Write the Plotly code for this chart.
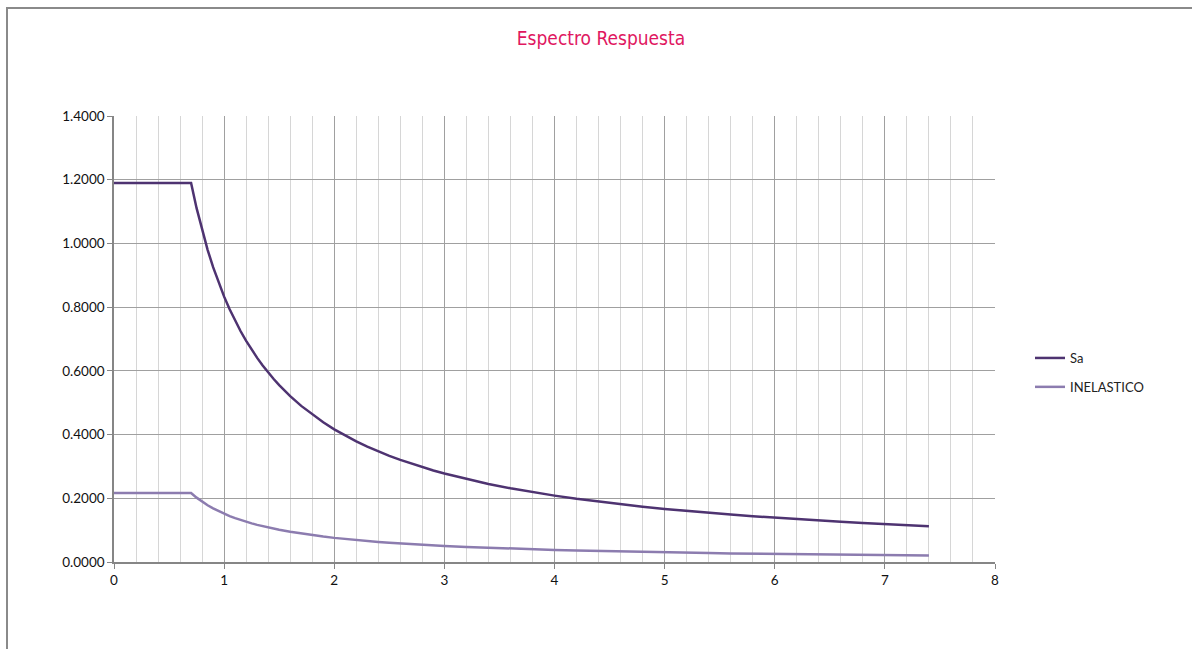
import plotly.graph_objects as go

# Period T (s) and spectral accelerations
periodo = [0, 0.7, 0.75, 0.8, 0.85, 0.9, 0.95, 1.0, 1.05, 1.1, 1.15, 1.2, 1.25, 1.3,
           1.35, 1.4, 1.45, 1.5, 1.6, 1.7, 1.8, 1.9, 2.0, 2.1, 2.2, 2.3, 2.4, 2.5, 2.6,
           2.7, 2.8, 2.9, 3.0, 3.2, 3.4, 3.6, 3.8, 4.0, 4.2, 4.4, 4.6, 4.8, 5.0, 5.2,
           5.4, 5.6, 5.8, 6.0, 6.2, 6.4, 6.6, 6.8, 7.0, 7.2, 7.4]
sa = [1.1900, 1.1900, 1.1107, 1.0413, 0.9800, 0.9256, 0.8768, 0.8330, 0.7933, 0.7573,
      0.7243, 0.6942, 0.6664, 0.6408, 0.6170, 0.5950, 0.5745, 0.5553, 0.5206, 0.4900,
      0.4628, 0.4384, 0.4165, 0.3967, 0.3786, 0.3622, 0.3471, 0.3332, 0.3204, 0.3085,
      0.2975, 0.2872, 0.2777, 0.2603, 0.2450, 0.2314, 0.2192, 0.2083, 0.1983, 0.1893,
      0.1811, 0.1735, 0.1666, 0.1602, 0.1543, 0.1488, 0.1436, 0.1388, 0.1344, 0.1302,
      0.1262, 0.1225, 0.1190, 0.1157, 0.1126]
inelastico = [0.2164, 0.2164, 0.2020, 0.1893, 0.1782, 0.1683, 0.1594, 0.1515, 0.1442,
              0.1377, 0.1317, 0.1262, 0.1212, 0.1165, 0.1122, 0.1082, 0.1045, 0.1010,
              0.0947, 0.0891, 0.0841, 0.0797, 0.0757, 0.0721, 0.0689, 0.0659, 0.0631,
              0.0606, 0.0583, 0.0561, 0.0541, 0.0522, 0.0505, 0.0473, 0.0445, 0.0421,
              0.0399, 0.0379, 0.0361, 0.0344, 0.0329, 0.0316, 0.0303, 0.0291, 0.0280,
              0.0270, 0.0261, 0.0252, 0.0244, 0.0237, 0.0229, 0.0223, 0.0216, 0.0210,
              0.0205]

x_ticks = [0, 1, 2, 3, 4, 5, 6, 7, 8]
y_ticks = [0.0, 0.2, 0.4, 0.6, 0.8, 1.0, 1.2, 1.4]

FONT = "Lato, 'Open Sans', sans-serif"

fig = go.Figure()
fig.add_trace(go.Scatter(x=periodo, y=sa, mode="lines", name="Sa", legendgroup="a",
                         line=dict(color="#4E3371", width=2.5)))
fig.add_trace(go.Scatter(x=periodo, y=inelastico, mode="lines", name="INELASTICO",
                         legendgroup="b", line=dict(color="#8C7CAF", width=2.5)))

W, H = 1192, 649
L, R, T, B = 114, 197, 116, 87
pw, ph = W - L - R, H - T - B

fig.update_layout(
    width=W, height=H,
    margin=dict(l=L, r=R, t=T, b=B),
    paper_bgcolor="white", plot_bgcolor="white",
    title=dict(text="Espectro Respuesta", x=601 / W, xanchor="center",
               y=1 - 38 / H, yanchor="middle",
               font=dict(family="'DejaVu Sans Condensed', 'Liberation Sans Narrow', sans-serif",
                         size=19, color="#E0175F")),
    showlegend=True,
    legend=dict(x=(1030 - L) / pw, y=(H - B - 343) / ph, xanchor="left", yanchor="top",
                font=dict(family=FONT, size=13, color="#222"),
                bgcolor="rgba(0,0,0,0)", tracegroupgap=9, itemwidth=30),
    xaxis=dict(range=[0, 8], tickvals=x_ticks, ticktext=[str(v) for v in x_ticks],
               showgrid=True, gridcolor="#A0A0A0", gridwidth=1,
               minor=dict(dtick=0.2, showgrid=True, gridcolor="#D6D6D6", gridwidth=1),
               showline=True, linecolor="#868686", linewidth=1.5,
               ticks="outside", ticklen=5, tickcolor="#868686",
               tickfont=dict(family=FONT, size=13.5, color="#111"),
               zeroline=False, fixedrange=True),
    yaxis=dict(range=[0, 1.4], tickvals=y_ticks, tickformat=".4f",
               showgrid=True, gridcolor="#A0A0A0", gridwidth=1,
               showline=True, linecolor="#868686", linewidth=1.5,
               ticks="outside", ticklen=5, tickcolor="#868686",
               tickfont=dict(family=FONT, size=13.5, color="#111"),
               zeroline=False, fixedrange=True),
)

# Outer chart frame (top and left edges visible)
fig.add_shape(type="rect", xref="paper", yref="paper",
              x0=(7 - L) / pw, x1=(W + 20 - L) / pw,
              y0=(H - B - (H + 20)) / ph, y1=(H - B - 8) / ph,
              line=dict(color="#8A8A8A", width=2), layer="below")

fig.write_html("out.html")
